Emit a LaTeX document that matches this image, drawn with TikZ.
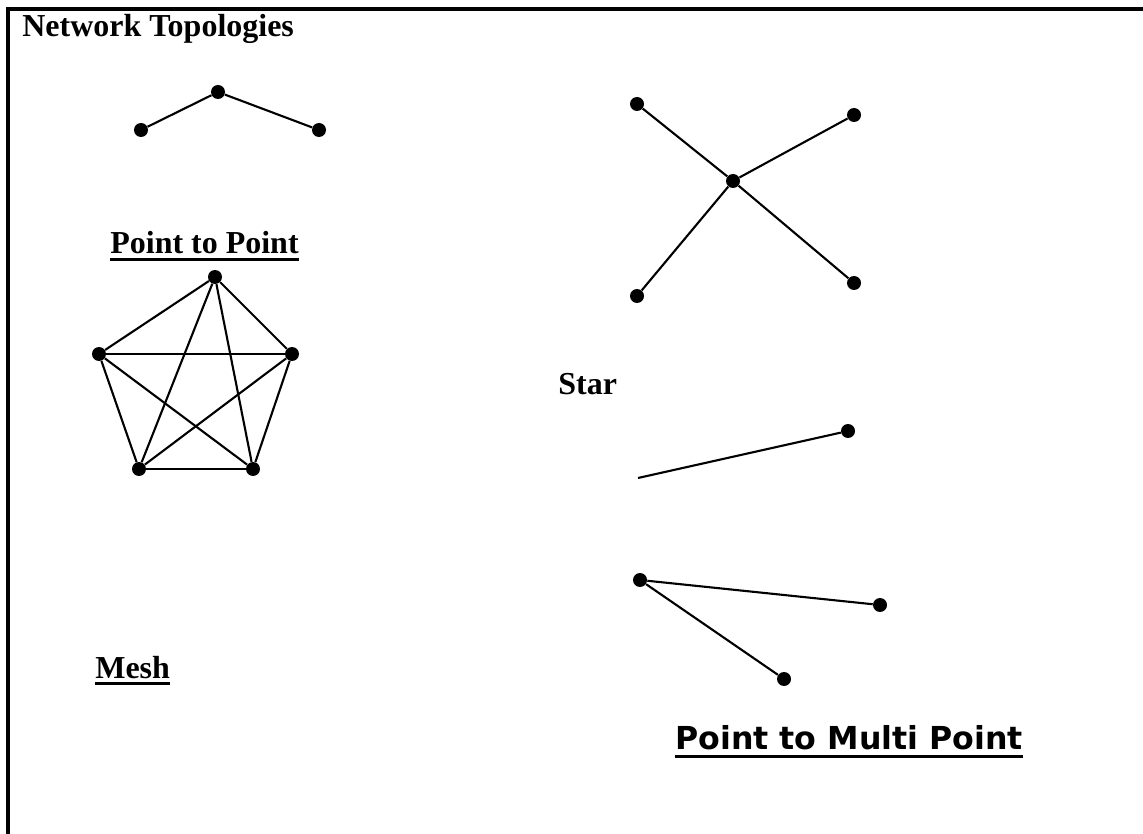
\documentclass[tikz,border=0pt]{standalone}
\usepackage{fontspec}
\setmainfont{Liberation Serif}
\newfontfamily\dejavu{DejaVu Sans}
\usepackage{tikz}
\usetikzlibrary{positioning, calc}

% thick underline, as in the labels
\newcommand{\ulbar}[2][4.2pt]{\setbox0\hbox{#2}\leavevmode\rlap{\rule[-#1]{\wd0}{1.7pt}}\box0}

\tikzset{
    dot/.style={circle, fill=black, inner sep=0pt, minimum size=0.28cm},
    link/.style={line width=1.2pt},
    title/.style={anchor=base west, inner sep=0pt, font=\bfseries\fontsize{18.2}{20}\selectfont}
}

\begin{document}
\begin{tikzpicture}[x=0.02cm, y=-0.02cm]

    \useasboundingbox (0,0) rectangle (1143,834);

    % Frame
    \draw[line width=2.2pt] (8,834) -- (8,9) -- (1143,9);

    % Title
    \node[title] (head) at (22,37) {Network Topologies};

    % Point to point
    \node[dot] (p1) at (141,130) {};
    \node[dot] (p2) at (218,92) {};
    \node[dot] (p3) at (319,130) {};
    \draw[link] (p1) -- (p2) -- (p3);
    \node[title] (ptp) at (110,254) {\ulbar{Point to Point}};

    % Mesh
    \node[dot] (m1) at (215,277) {};
    \node[dot] (m2) at (99,354) {};
    \node[dot] (m3) at (292,354) {};
    \node[dot] (m4) at (139,469) {};
    \node[dot] (m5) at (253,469) {};
    \foreach \a/\b in {m1/m2, m1/m3, m1/m4, m1/m5, m2/m3, m2/m4, m2/m5, m3/m4, m3/m5, m4/m5}
        \draw[link] (\a) -- (\b);
    \node[title] (mesh) at (95,678) {\ulbar{Mesh}};

    % Star
    \node[dot] (hub) at (733,181) {};
    \node[dot] (s1) at (637,104) {};
    \node[dot] (s2) at (854,115) {};
    \node[dot] (s3) at (637,296) {};
    \node[dot] (s4) at (854,283) {};
    \foreach \s in {s1, s2, s3, s4}
        \draw[link] (hub) -- (\s);
    \node[title] (star) at (558,395) {Star};

    % Point to multi point
    \coordinate (free) at (638,478);
    \node[dot] (q0) at (848,431) {};
    \draw[link] (free) -- (q0);
    \node[dot] (q1) at (640,580) {};
    \node[dot] (q2) at (880,605) {};
    \node[dot] (q3) at (784,679) {};
    \draw[link] (q2) -- (q1) -- (q3);
    \node[anchor=base west, inner sep=0pt, font=\dejavu\bfseries\fontsize{18}{20}\selectfont] (ptmp) at (675,749)
        {\ulbar[5pt]{Point to Multi Point}};

\end{tikzpicture}
\end{document}
